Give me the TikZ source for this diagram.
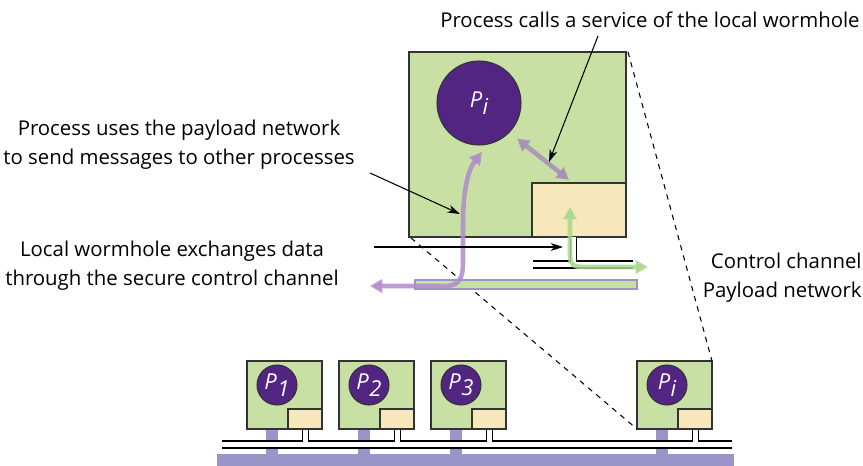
\documentclass[tikz,border=0pt]{standalone}
\usepackage{fontspec}
\setmainfont{Open Sans}
\usetikzlibrary{arrows.meta}

\definecolor{hostgreen}{HTML}{C9E0A5}
\definecolor{whyellow}{HTML}{F6E8BA}
\definecolor{procpurple}{HTML}{532582}
\definecolor{buslav}{HTML}{9995C8}
\definecolor{paypurple}{HTML}{B08CC9}
\definecolor{callpurple}{HTML}{A68DB8}
\definecolor{ctrlgreen}{HTML}{A8D88C}

\begin{document}
\begin{tikzpicture}[x=0.02cm,y=-0.02cm,font=\fontsize{11.6}{16.5}\selectfont]
\useasboundingbox (0,0) rectangle (863,466);
\tikzset{
  host/.style={fill=hostgreen,draw=black!80,line width=0.7pt},
  wormhole/.style={fill=whyellow,draw=black!80,line width=0.7pt},
  proc/.style={circle,fill=procpurple,draw=black!80,line width=0.6pt,text=white,
    inner sep=0pt,minimum size=0.8cm,font=\fontsize{12.5}{12.5}\selectfont\itshape},
  bigproc/.style={proc,minimum size=1.68cm},
  bus/.style={fill=buslav},
  chanout/.style={black,line width=4.6pt},
  chanin/.style={white,line width=3.4pt},
  linkout/.style={black,line width=3.5pt},
  linkin/.style={white,line width=2.3pt},
  zoomline/.style={dashed,line width=0.6pt},
  note/.style={line width=0.6pt,-{Stealth[length=7pt,width=4.5pt,inset=2pt]}},
  flow/.style={line width=2.6pt,opacity=0.85,
    {Triangle[length=7pt,width=7.5pt]}-{Triangle[length=7pt,width=7.5pt]}}
}

% payload network and stubs
\fill[bus] (217,454) rectangle (734,466);
\fill[bus] (266,429) rectangle (278,454);
\fill[bus] (358,429) rectangle (370,454);
\fill[bus] (450,429) rectangle (462,454);
\fill[bus] (656,429) rectangle (668,454);

% control channel
\draw[chanout] (222,444.5) -- (732,444.5);
\draw[linkout] (305.5,429) -- (305.5,444.5);
\draw[linkout] (397.5,429) -- (397.5,444.5);
\draw[linkout] (489.5,429) -- (489.5,444.5);
\draw[linkout] (695.5,429) -- (695.5,444.5);
\draw[chanin] (222,444.5) -- (732,444.5);
\draw[linkin] (305.5,429) -- (305.5,444.5);
\draw[linkin] (397.5,429) -- (397.5,444.5);
\draw[linkin] (489.5,429) -- (489.5,444.5);
\draw[linkin] (695.5,429) -- (695.5,444.5);

% hosts
\draw[host] (247,361) rectangle (322,429);
\draw[wormhole] (288,409) rectangle (322,429);
\path (277,385) node[proc] (p1) {P\kern0.3pt\raisebox{-0.55ex}{1}};
\draw[host] (339,361) rectangle (414,429);
\draw[wormhole] (380,409) rectangle (414,429);
\path (369,385) node[proc] (p2) {P\kern0.3pt\raisebox{-0.55ex}{2}};
\draw[host] (431,361) rectangle (506,429);
\draw[wormhole] (472,409) rectangle (506,429);
\path (461,385) node[proc] (p3) {P\kern0.3pt\raisebox{-0.55ex}{3}};
\draw[host] (637,361) rectangle (712,429);
\draw[wormhole] (678,409) rectangle (712,429);
\path (667,385) node[proc] (pi) {P\kern0.3pt\raisebox{-0.55ex}{i}};
\coordinate (pi-ne) at (712,361);
\coordinate (pi-sw) at (637,429);

% enlarged host
\draw[host] (409,52) rectangle (626,237);
\draw[wormhole] (532,183) rectangle (626,237);
\coordinate (big-ne) at (628,52);
\coordinate (big-sw) at (411,238);
\path (479,103) node[bigproc] (bigpi) {P\kern0.3pt\raisebox{-0.55ex}{i}};
\coordinate (bigwh) at (569,180);
\draw[zoomline] (big-ne) -- (pi-ne);
\draw[zoomline] (big-sw) -- (pi-sw);

% local channel and payload
\draw[linkout] (573.5,237) -- (573.5,264.5);
\draw[chanout] (533,264.5) -- (633,264.5);
\draw[linkin] (573.5,237) -- (573.5,264.5);
\draw[chanin] (533,264.5) -- (633,264.5);
\draw[fill=hostgreen,draw=buslav,line width=0.9pt] (415,280) rectangle (637,289);

% labels
\path (650,20) node (calltxt) {Process calls a service of the local wormhole};
\path (179,145) node[align=center] (usetxt) {Process uses the payload network\\to send messages to other processes};
\path (172,266) node[align=center] (xchgtxt) {Local wormhole exchanges data\\through the secure control channel};
\path (862,278) node[anchor=east,align=right,inner sep=0pt] (legend) {Control channel\\Payload network};

% flows
\coordinate (payout) at (370,286);
\coordinate (payin) at (482,152);
\draw[flow,paypurple] (payout) -- (440,286) .. controls (459,287) and (463,280) .. (463,262)
  -- (463,225) .. controls (463,190) and (468,170) .. (payin);
\draw[flow,callpurple] (bigpi) ++(43:52) coordinate (callfrom) -- (bigwh);
\coordinate (ctrlin) at (570,207);
\coordinate (ctrlout) at (648,267);
\draw[flow,ctrlgreen] (ctrlin) -- (570,255) .. controls (570,266) and (574,267) .. (586,267) -- (ctrlout);

% pointers
\coordinate (callnote) at (598,36);
\coordinate (calltip) at (549,162);
\draw[note] (callnote) -- (calltip);
\coordinate (usenote) at (370,173);
\coordinate (usetip) at (460,214);
\draw[note] (usenote) -- (usetip);
\coordinate (xchgnote) at (374,247);
\coordinate (xchgtip) at (563,247);
\draw[note] (xchgnote) -- (xchgtip);
\end{tikzpicture}
\end{document}
